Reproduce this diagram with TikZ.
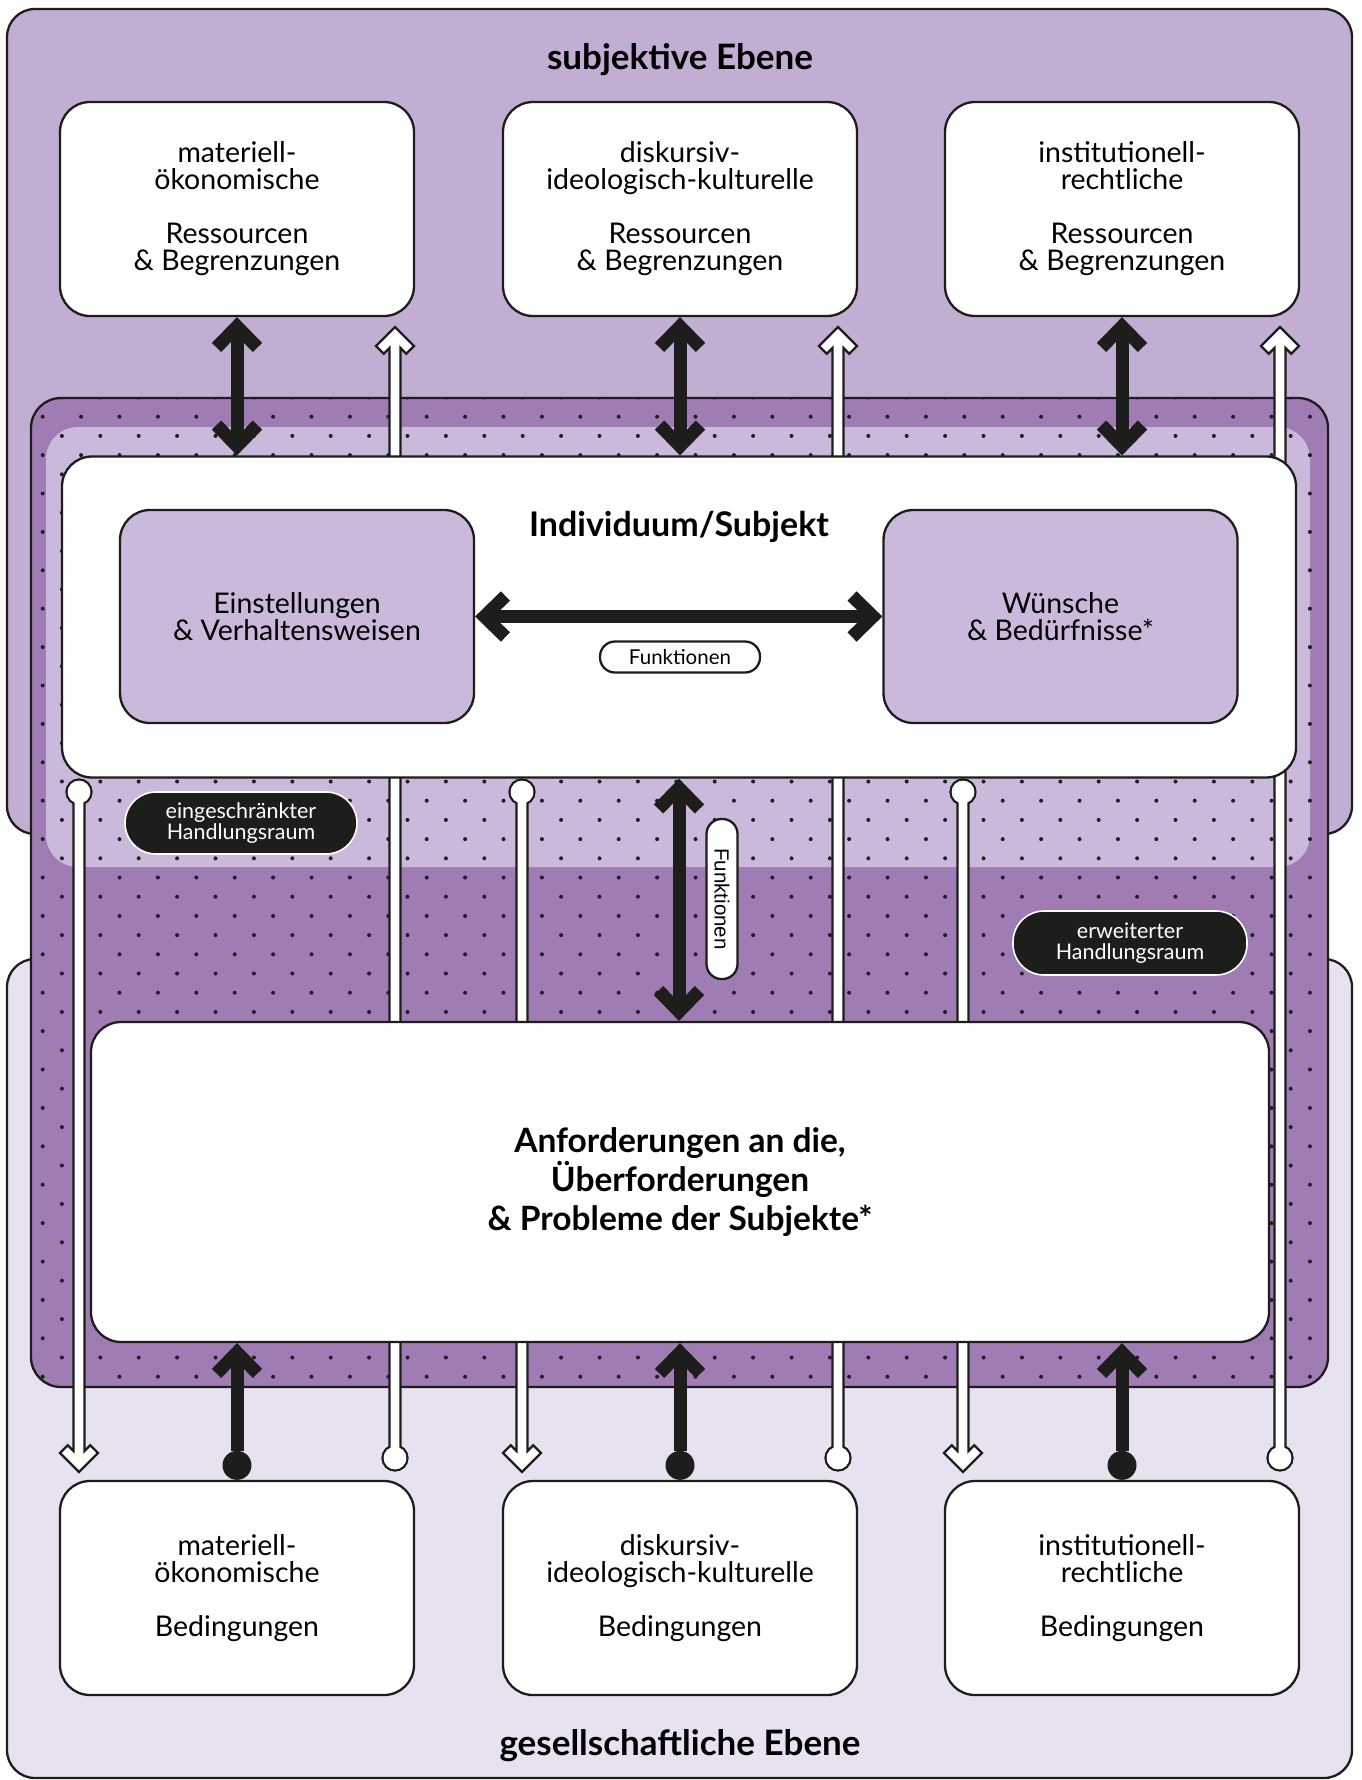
\documentclass[tikz,border=0pt]{standalone}
\usepackage{fontspec}
\setmainfont{Lato}
\newfontfamily\arialfont{Liberation Sans}
\usetikzlibrary{arrows.meta}

\definecolor{ink}{HTML}{1D1D1B}
\definecolor{subjbg}{HTML}{C2AED3}
\definecolor{gesbg}{HTML}{E8E2F0}
\definecolor{raumdark}{HTML}{A07CB4}
\definecolor{raumlight}{HTML}{CBB9DC}

% white arrow: x, tip y, y of the round end
\newcommand{\whitearrow}[3]{%
  \pgfmathsetmacro\wdir{sign(#3-#2)}
  \draw[wline] (#1,#3) circle (12.5);
  \draw[wline] (#1,#2) -- ++(-19,19*\wdir) -- ++(7.8,7.8*\wdir)
    -- ({#1-5.5},{#2+21.1*\wdir}) -- ({#1-5.5},#3) -- ({#1+5.5},#3)
    -- ({#1+5.5},{#2+21.1*\wdir}) -- ({#1+11.2},{#2+26.8*\wdir})
    -- ++(7.8,-7.8*\wdir) -- cycle;
  \fill[white] (#1,#3) circle (11.3);
}

\begin{document}
\begin{tikzpicture}[x=1pt, y=-1pt,
  box/.style={draw=ink, fill=white, line width=2.3pt, rounded corners=30pt,
    minimum width=354pt, minimum height=214pt, inner sep=0pt, align=center,
    font=\fontsize{28.5}{27}\selectfont},
  innerbox/.style={box, fill=raumlight, minimum height=213pt},
  title/.style={align=center, font=\bfseries\fontsize{35}{39}\selectfont},
  pill/.style={draw=ink, fill=white, line width=2.3pt, rounded corners=15pt,
    minimum width=160pt, minimum height=31pt, inner sep=0pt,
    font=\fontsize{20.5}{20.5}\selectfont},
  raum/.style={draw=white, fill=ink, text=white, line width=1.6pt,
    rounded corners=31pt, minimum width=232pt, minimum height=62pt,
    inner sep=0pt, align=center, font=\fontsize{21.5}{21}\selectfont},
  wline/.style={draw=ink, fill=white, line width=2.3pt},
  blk/.style={draw=ink, line width=13pt},
  >={Straight Barb[length=21pt,width=41pt]}]

\useasboundingbox (0,0) rectangle (1361,1780);

\draw[ink, line width=2.3pt, fill=subjbg, rounded corners=28pt] (7,9) rectangle (1352,834);
\draw[ink, line width=2.3pt, fill=gesbg, rounded corners=28pt] (7,959) rectangle (1352,1778);
\draw[ink, line width=2.3pt, fill=raumdark, rounded corners=30pt] (31,398) rectangle (1328,1387);
\fill[raumlight, rounded corners=32pt] (46,427) rectangle (1310,867);

\begin{scope}
\clip[rounded corners=30pt] (31,398) rectangle (1328,1387);
\foreach \i in {0,...,33}
  \foreach \j in {0,...,25} {
    \fill[ink] ({42.7+38.4*\i},{416.7+38.4*\j}) circle (2);
    \fill[ink] ({61.9+38.4*\i},{397.5+38.4*\j}) circle (2);
  }
\end{scope}

\whitearrow{395}{327}{1458}
\whitearrow{838}{327}{1458}
\whitearrow{1280}{327}{1458}
\whitearrow{79}{1472}{792}
\whitearrow{522}{1472}{792}
\whitearrow{963}{1472}{792}

\node[title] (subj) at (680,60) {subjektive Ebene};
\node[title] (ges) at (680,1746) {gesellschaftliche Ebene};

\node[box] (m1) at (237,209) {materiell-\\ökonomische\\[27pt]Ressourcen\\\& Begrenzungen};
\node[box] (m2) at (680,209) {diskursiv-\\ideologisch-kulturelle\\[27pt]Ressourcen\\\& Begrenzungen};
\node[box] (m3) at (1122,209) {institutionell-\\rechtliche\\[27pt]Ressourcen\\\& Begrenzungen};

\node[box, minimum width=1234pt, minimum height=321pt] (ind) at (679,617) {};
\node[title, font=\bfseries\fontsize{34}{39}\selectfont] (indtitle) at (679,527) {Individuum/Subjekt};
\node[innerbox] (ein) at (297,616.5) {Einstellungen\\\& Verhaltensweisen};
\node[innerbox] (wun) at (1060.5,616.5) {Wünsche\\\& Bedürfnisse*};

\node[box, title, font=\bfseries\fontsize{33.5}{39}\selectfont, minimum width=1178pt,
  minimum height=320pt] (anf) at (680,1182)
  {Anforderungen an die,\\Überforderungen\\\& Probleme der Subjekte*};

\node[box] (b1) at (237,1588) {materiell-\\ökonomische\\[27pt]Bedingungen};
\node[box] (b2) at (680,1588) {diskursiv-\\ideologisch-kulturelle\\[27pt]Bedingungen};
\node[box] (b3) at (1122,1588) {institutionell-\\rechtliche\\[27pt]Bedingungen};

\foreach \bx in {m1,m2,m3}
  \draw[blk,<->] (\bx.south) -- (\bx.south |- ind.north);
\foreach \bx in {b1,b2,b3}
  \draw[blk,{Circle[length=29pt,line width=0pt]}->] (\bx.north) -- (\bx.north |- anf.south);
\draw[blk,<->] (ein.east) -- (wun.west);
\draw[blk,<->] (ind.south) -- (ind.south |- anf.north);

\node[pill] (fh) at (680,657) {Funktionen};
\node[pill, rotate=-90, font=\arialfont\fontsize{20.5}{20.5}\selectfont] (fv) at (722,899) {Funktionen};

\node[raum] (eing) at (241,823) {eingeschränkter\\Handlungsraum};
\node[raum, minimum width=234pt, minimum height=64pt] (erw) at (1130,943) {erweiterter\\Handlungsraum};

\end{tikzpicture}
\end{document}
